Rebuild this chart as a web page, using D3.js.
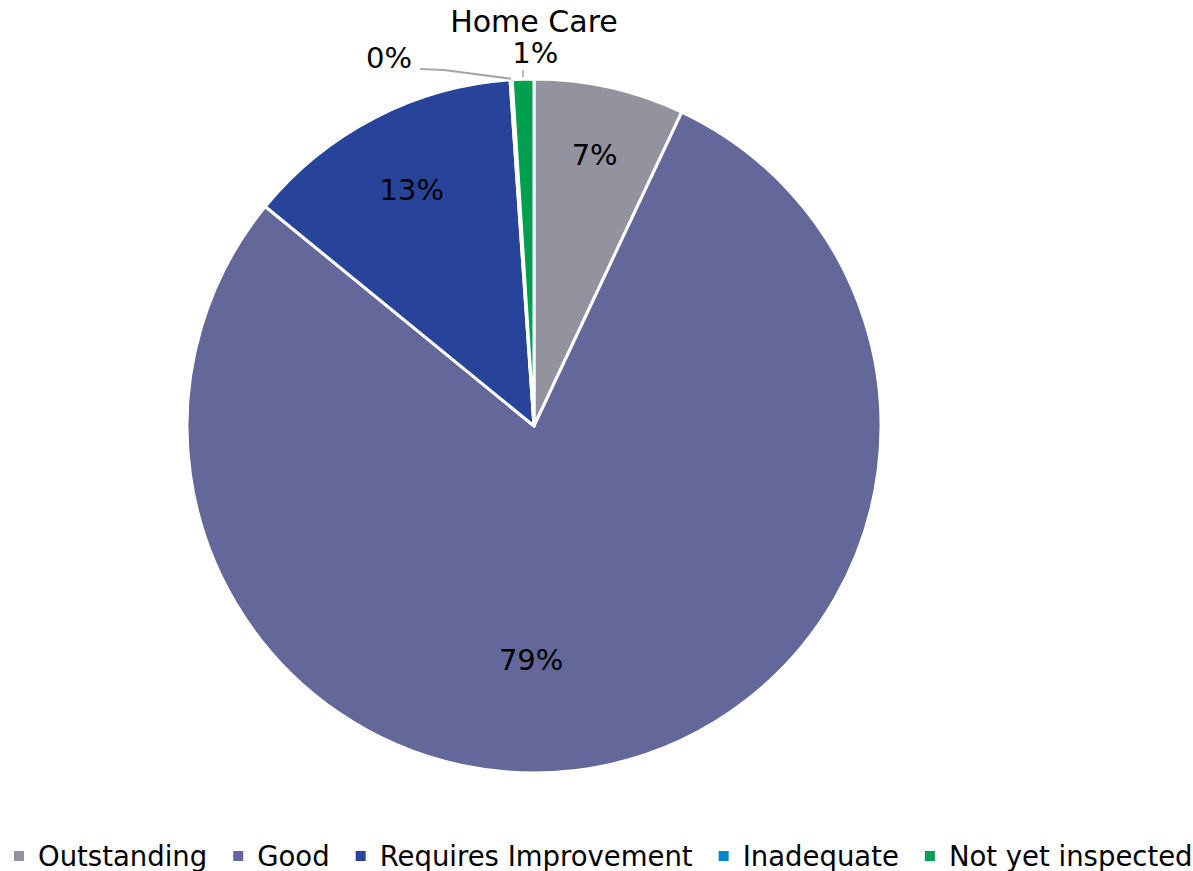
<!DOCTYPE html>
<html><head><meta charset="utf-8">
<script src="https://cdn.jsdelivr.net/npm/d3@7"></script>
<style>html,body{margin:0;padding:0;background:#fff;}svg{display:block;font-family:"DejaVu Sans",sans-serif;}</style>
</head><body>
<svg id="c" width="1193" height="871"></svg>
<script>
const title = "Home Care";
const categories = ["Outstanding","Good","Requires Improvement","Inadequate","Not yet inspected"];
const values = [7.0, 78.9, 13.0, 0.1, 1.0];
const labels = ["7%","79%","13%","0%","1%"];
const colors = ["#92939E","#646799","#27449A","#0088CC","#00A050"];

const svg = d3.select("#c");
const cx = 534, cy = 426, R = 347;
const g = svg.append("g").attr("transform",`translate(${cx},${cy})`);
const pie = d3.pie().sort(null).value(d=>d);
const arcs = pie(values);
const arc = d3.arc().innerRadius(0).outerRadius(R);
g.selectAll("path").data(arcs).enter().append("path")
  .attr("d",arc).attr("fill",(d,i)=>colors[i])
  .attr("stroke","#fff").attr("stroke-width",3).attr("stroke-linejoin","round");

function pos(i){
  const a = arcs[i];
  if(i===1){ // Excel best-fit position for large slice
    const ang = (180.7)*Math.PI/180, r = 234;
    return [r*Math.sin(ang), -r*Math.cos(ang)];
  }
  if(i===3){ return [-145, -368]; }
  if(i===4){ const m=(a.startAngle+a.endAngle)/2; const r=373; return [r*Math.sin(m)+13, -r*Math.cos(m)]; }
  const m=(a.startAngle+a.endAngle)/2; const r = i===0?278:266;
  return [r*Math.sin(m), -r*Math.cos(m)];
}
labels.forEach((t,i)=>{
  const p = pos(i);
  g.append("text").attr("x",p[0]).attr("y",p[1]).attr("text-anchor","middle")
   .attr("dominant-baseline","central").attr("font-size",29).attr("fill","#000").text(t);
});
{
  const a = arcs[3]; const m=(a.startAngle+a.endAngle)/2;
  const ex = (R+1)*Math.sin(m), ey = -(R+1)*Math.cos(m);
  g.append("polyline").attr("points",`${-114},${-357} ${-90},${-356} ${ex},${ey}`)
   .attr("fill","none").attr("stroke","#A6A6A6").attr("stroke-width",2);
  const b = arcs[4]; const mb=(b.startAngle+b.endAngle)/2;
  const bx = (R+2)*Math.sin(mb), by = -(R+2)*Math.cos(mb);
  g.append("line").attr("x1",bx).attr("y1",by).attr("x2",bx).attr("y2",by-7)
   .attr("stroke","#A6A6A6").attr("stroke-width",1.5);
}
svg.append("text").attr("x",534).attr("y",21).attr("text-anchor","middle")
  .attr("dominant-baseline","central").attr("font-size",30).attr("fill","#000").text(title);

// legend
const lg = svg.append("g").attr("transform","translate(0,856)");
let x = 14;
categories.forEach((c,i)=>{
  lg.append("rect").attr("x",x).attr("y",-5).attr("width",10).attr("height",10).attr("fill",colors[i]);
  const t = lg.append("text").attr("x",x+24).attr("y",0).attr("dominant-baseline","central")
    .attr("font-size",27.5).attr("fill","#000").text(c);
  const w = t.node().getComputedTextLength();
  x = x + 24 + w + 26;
});
</script>
</body></html>
